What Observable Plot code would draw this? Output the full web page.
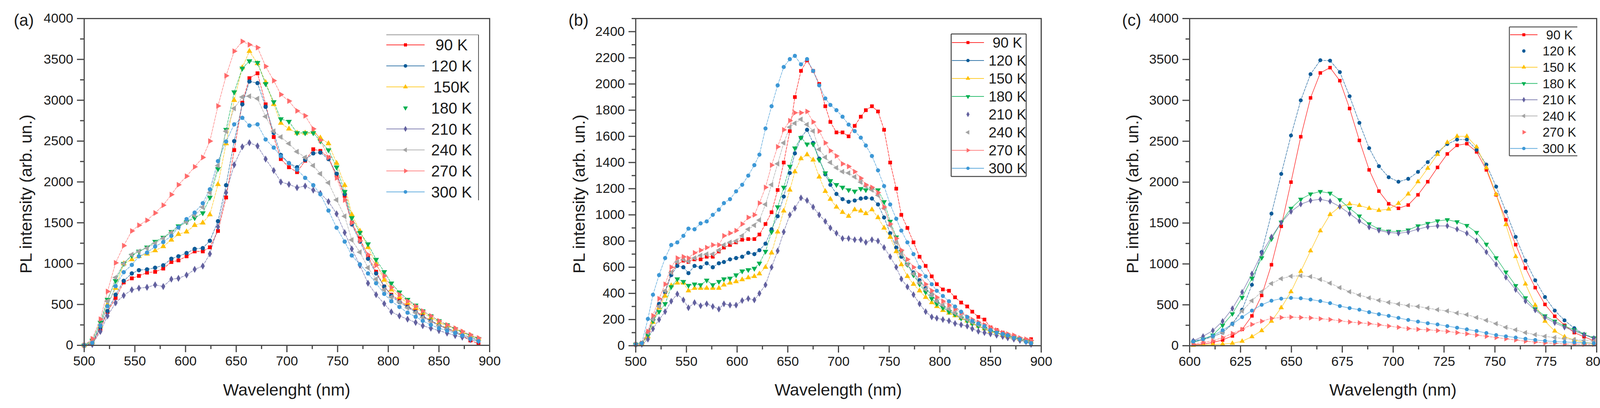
<!DOCTYPE html>
<html>
<head>
<meta charset="utf-8">
<script src="https://cdn.jsdelivr.net/npm/d3@7"></script>
<script src="https://cdn.jsdelivr.net/npm/@observablehq/plot@0.6"></script>
<style>
  body { margin: 0; background: #fff; }
  #fig { position: relative; width: 4135px; height: 1045px; overflow: hidden;
         font-family: "Liberation Sans", Arial, sans-serif; color: #1a1a1a; }
  .abs { position: absolute; white-space: nowrap; line-height: 1; }
</style>
</head>
<body>
<div id="fig"></div>
<script>
// ---------- panel (a) ----------
const xA = [500, 508, 516, 523, 531, 539, 547, 554, 562, 570, 578, 586, 593, 601, 609, 617, 624, 632, 640, 648,
  656, 663, 671, 679, 687, 694, 702, 710, 718, 726, 733, 741, 749, 757, 764, 772, 780, 788, 796, 803,
  811, 819, 827, 834, 842, 850, 858, 866, 873, 881, 889];
const a90 = [0, 20, 200, 410, 580, 770, 820, 850, 890, 900, 940, 1020, 1040, 1090, 1150, 1150, 1200, 1400, 1810, 2390,
  2970, 3270, 3330, 2950, 2550, 2280, 2180, 2120, 2260, 2400, 2380, 2300, 2080, 1830, 1500, 1310, 1090, 900, 720, 620,
  550, 480, 420, 360, 300, 250, 200, 160, 120, 60, 20];
const a120 = [0, 30, 220, 420, 620, 790, 880, 920, 930, 950, 980, 1060, 1090, 1130, 1180, 1190, 1280, 1520, 1960, 2500,
  2950, 3230, 3210, 2920, 2600, 2330, 2230, 2180, 2270, 2350, 2360, 2280, 2100, 1850, 1480, 1270, 1060, 880, 720, 610,
  530, 470, 410, 350, 300, 250, 210, 170, 130, 100, 60];
const a150 = [0, 40, 240, 500, 700, 1000, 1050, 1090, 1120, 1160, 1210, 1290, 1360, 1390, 1470, 1500, 1600, 1970, 2470, 3000,
  3400, 3600, 3450, 3220, 2950, 2720, 2650, 2600, 2600, 2610, 2540, 2470, 2230, 1960, 1600, 1400, 1200, 1000, 800, 680,
  590, 520, 460, 400, 340, 280, 240, 200, 160, 120, 80];
const a180 = [0, 60, 280, 560, 790, 1000, 1100, 1150, 1200, 1270, 1320, 1390, 1460, 1510, 1560, 1620, 1810, 2160, 2640, 3100,
  3390, 3480, 3460, 3200, 2980, 2770, 2740, 2600, 2600, 2600, 2500, 2390, 2180, 1880, 1560, 1380, 1240, 1050, 900, 760,
  650, 560, 490, 420, 360, 300, 250, 200, 160, 120, 80];
const a210 = [0, 10, 170, 360, 520, 610, 680, 700, 710, 740, 720, 810, 820, 860, 930, 970, 1120, 1450, 1870, 2210,
  2430, 2480, 2440, 2280, 2140, 2000, 1970, 1930, 1950, 1900, 1860, 1760, 1610, 1380, 1180, 980, 760, 620, 510, 410,
  360, 320, 280, 240, 210, 180, 150, 120, 100, 70, 50];
const a240 = [0, 40, 250, 540, 830, 1000, 1110, 1150, 1190, 1250, 1310, 1380, 1440, 1510, 1590, 1690, 1870, 2200, 2620, 2900,
  3040, 3050, 3020, 2800, 2620, 2550, 2470, 2370, 2300, 2200, 2100, 1990, 1780, 1580, 1290, 1140, 950, 810, 680, 590,
  530, 460, 400, 340, 290, 240, 200, 170, 130, 100, 70];
const a270 = [0, 80, 320, 660, 1010, 1220, 1400, 1470, 1530, 1620, 1715, 1845, 1965, 2070, 2185, 2300, 2500, 2930, 3300, 3600,
  3720, 3680, 3645, 3415, 3240, 3070, 2990, 2870, 2810, 2650, 2510, 2300, 2050, 1780, 1500, 1280, 1110, 980, 850, 710,
  620, 540, 480, 420, 360, 300, 250, 210, 170, 130, 90];
const a300 = [0, 30, 240, 480, 725, 895, 985, 1090, 1135, 1210, 1265, 1340, 1445, 1545, 1625, 1740, 1910, 2255, 2495, 2705,
  2785, 2690, 2705, 2520, 2420, 2315, 2230, 2150, 2050, 1960, 1850, 1650, 1440, 1270, 1100, 990, 880, 760, 630, 540,
  470, 400, 350, 300, 250, 210, 180, 150, 120, 80, 50];

// ---------- panel (b) ----------
const xB = [500, 506, 512, 517, 523, 529, 535, 541, 547, 552, 558, 564, 570, 576, 582, 587, 593, 599, 605, 611,
  617, 622, 628, 634, 640, 646, 652, 657, 663, 669, 675, 681, 687, 692, 698, 704, 710, 716, 722, 727,
  733, 739, 745, 751, 757, 762, 768, 774, 780, 786, 792, 797, 803, 809, 815, 821, 827, 832, 838, 844,
  850, 856, 862, 867, 873, 879, 885, 890];
const b90 = [10, 20, 100, 200, 300, 410, 560, 620, 650, 640, 660, 660, 680, 680, 720, 750, 770, 790, 810, 815,
  815, 850, 930, 1020, 1190, 1400, 1640, 1900, 2100, 2180, 2100, 2000, 1830, 1710, 1630, 1630, 1600, 1680, 1750, 1800,
  1830, 1790, 1650, 1400, 1200, 1000, 900, 790, 680, 610, 530, 470, 430, 420, 370, 330, 300, 260, 220, 200,
  140, 120, 100, 80, 70, 50, 45, 50];
const b120 = [10, 20, 100, 200, 320, 410, 540, 610, 600, 555, 610, 600, 630, 600, 630, 640, 660, 670, 680, 710,
  700, 730, 780, 890, 990, 1140, 1320, 1470, 1590, 1650, 1550, 1430, 1310, 1230, 1160, 1120, 1100, 1110, 1125, 1130,
  1125, 1080, 980, 860, 750, 680, 620, 560, 500, 440, 390, 340, 300, 270, 240, 210, 190, 170, 150, 130,
  110, 100, 80, 70, 60, 50, 30, 20];
const b150 = [10, 15, 70, 180, 290, 380, 460, 480, 480, 420, 440, 440, 440, 440, 440, 465, 480, 490, 505, 520,
  530, 550, 600, 710, 870, 1030, 1190, 1330, 1430, 1460, 1420, 1290, 1180, 1120, 1060, 1020, 990, 1040, 1030, 1010,
  1040, 980, 900, 830, 720, 620, 530, 470, 420, 370, 330, 300, 270, 250, 230, 210, 190, 170, 150, 130,
  110, 100, 80, 70, 60, 50, 40, 30];
const b180 = [10, 15, 80, 190, 260, 320, 450, 510, 490, 460, 470, 465, 500, 465, 490, 510, 515, 540, 570, 580,
  590, 630, 720, 870, 1060, 1210, 1370, 1510, 1590, 1540, 1540, 1420, 1320, 1260, 1230, 1210, 1190, 1180, 1200, 1190,
  1200, 1190, 1100, 950, 830, 720, 620, 540, 470, 410, 360, 320, 290, 260, 240, 210, 190, 170, 150, 130,
  110, 100, 80, 70, 60, 50, 40, 30];
const b210 = [5, 10, 50, 130, 200, 260, 340, 395, 350, 290, 330, 305, 320, 300, 280, 320, 310, 310, 345, 360,
  350, 400, 465, 600, 725, 870, 1000, 1050, 1130, 1110, 1060, 1000, 950, 900, 860, 820, 820, 810, 810, 790,
  810, 800, 750, 680, 600, 510, 450, 390, 320, 260, 220, 210, 200, 190, 170, 160, 150, 130, 110, 100,
  90, 80, 70, 60, 50, 40, 30, 10];
const b240 = [10, 20, 100, 200, 300, 420, 560, 640, 660, 645, 670, 690, 700, 700, 730, 770, 790, 800, 840, 890,
  920, 960, 1080, 1230, 1390, 1550, 1670, 1700, 1730, 1690, 1640, 1500, 1440, 1400, 1360, 1330, 1320, 1290, 1250, 1220,
  1190, 1150, 1050, 920, 790, 700, 620, 550, 480, 430, 390, 340, 310, 280, 250, 220, 200, 180, 160, 140,
  120, 100, 90, 80, 70, 50, 40, 30];
const b270 = [10, 20, 110, 230, 360, 470, 600, 670, 680, 670, 710, 730, 750, 770, 770, 840, 860, 880, 930, 980,
  1000, 1090, 1210, 1380, 1520, 1650, 1720, 1780, 1780, 1790, 1710, 1640, 1550, 1490, 1450, 1390, 1370, 1330, 1280, 1230,
  1210, 1170, 1060, 930, 820, 730, 660, 600, 540, 470, 420, 370, 340, 310, 280, 250, 220, 200, 180, 160,
  140, 120, 100, 90, 80, 60, 50, 40];
const b300 = [10, 20, 205, 390, 540, 670, 770, 790, 840, 895, 890, 935, 950, 1000, 1040, 1090, 1120, 1180, 1230, 1300,
  1380, 1460, 1660, 1830, 1990, 2130, 2190, 2215, 2150, 2190, 2100, 1990, 1890, 1840, 1800, 1750, 1690, 1640, 1590, 1530,
  1450, 1340, 1220, 1080, 970, 880, 790, 700, 600, 530, 470, 420, 380, 340, 300, 260, 220, 190, 170, 150,
  120, 100, 90, 80, 60, 50, 30, 20];

// ---------- panel (c) ----------
const xC = [601.8, 606.6, 611.4, 616.2, 621.0, 625.8, 630.6, 635.4, 640.2, 645.0, 649.8, 654.6, 659.4, 664.2,
  669.0, 673.8, 678.6, 683.4, 688.2, 693.0, 697.8, 702.6, 707.4, 712.2, 717.0, 721.8, 726.6, 731.4,
  736.2, 741.0, 745.8, 750.6, 755.4, 760.2, 765.0, 769.8, 774.6, 779.4, 784.2, 789.0, 793.8, 798.6];
const c90 = [10, 20, 40, 70, 120, 200, 365, 615, 990, 1460, 2000, 2555, 3030, 3335, 3400, 3240, 2900, 2510, 2150, 1890,
  1735, 1680, 1720, 1845, 2005, 2180, 2345, 2450, 2470, 2370, 2150, 1845, 1540, 1235, 950, 710, 505, 360, 250, 160, 110, 60];
const c120 = [60, 80, 110, 160, 270, 440, 745, 1145, 1615, 2100, 2570, 3000, 3320, 3490, 3485, 3345, 3050, 2725, 2415, 2195,
  2060, 2005, 2040, 2125, 2245, 2365, 2465, 2520, 2520, 2395, 2215, 1945, 1640, 1330, 1040, 800, 595, 430, 310, 215, 140, 95];
const c150 = [5, 10, 15, 20, 30, 55, 110, 185, 300, 465, 660, 910, 1160, 1405, 1605, 1700, 1735, 1715, 1680, 1655,
  1670, 1740, 1855, 2005, 2170, 2340, 2485, 2560, 2560, 2430, 2175, 1850, 1480, 1090, 755, 495, 300, 180, 110, 70, 40, 30];
const c180 = [40, 80, 130, 250, 390, 590, 825, 1075, 1305, 1510, 1680, 1790, 1855, 1885, 1865, 1785, 1680, 1585, 1490, 1425,
  1400, 1395, 1415, 1465, 1495, 1525, 1540, 1515, 1470, 1385, 1240, 1075, 900, 735, 585, 450, 365, 300, 240, 195, 140, 95];
const c210 = [60, 115, 185, 300, 455, 655, 880, 1130, 1330, 1505, 1640, 1730, 1775, 1790, 1765, 1700, 1615, 1525, 1450, 1410,
  1385, 1375, 1390, 1425, 1455, 1465, 1465, 1425, 1375, 1285, 1145, 995, 835, 685, 545, 435, 345, 280, 225, 180, 135, 90];
const c240 = [40, 70, 110, 160, 260, 425, 550, 660, 760, 820, 850, 855, 845, 810, 765, 710, 660, 620, 585, 555,
  530, 510, 490, 480, 460, 440, 425, 400, 380, 345, 310, 270, 225, 195, 160, 135, 115, 100, 85, 75, 65, 55];
const c270 = [20, 40, 60, 100, 150, 200, 260, 300, 335, 345, 350, 345, 340, 330, 320, 305, 290, 280, 270, 255,
  240, 225, 210, 200, 195, 185, 175, 160, 145, 130, 115, 100, 85, 70, 55, 45, 35, 30, 20, 20, 15, 15];
const c300 = [50, 80, 120, 190, 265, 350, 430, 500, 550, 575, 585, 580, 565, 545, 520, 485, 460, 440, 410, 385,
  365, 340, 315, 295, 275, 260, 240, 220, 200, 180, 155, 130, 115, 100, 85, 70, 60, 50, 45, 40, 35, 30];

// tick values
const xTicksAB = [500, 550, 600, 650, 700, 750, 800, 850, 900];
const xMinorAB = [525, 575, 625, 675, 725, 775, 825, 875];
const yTicks4000 = [0, 500, 1000, 1500, 2000, 2500, 3000, 3500, 4000];
const yMinor4000 = [250, 750, 1250, 1750, 2250, 2750, 3250, 3750];
const yTicksB = [0, 200, 400, 600, 800, 1000, 1200, 1400, 1600, 1800, 2000, 2200, 2400];
const yMinorB = [100, 300, 500, 700, 900, 1100, 1300, 1500, 1700, 1900, 2100, 2300, 2500];
const xTicksC = [600, 625, 650, 675, 700, 725, 750, 775, 800];
const xMinorC = [612.5, 637.5, 662.5, 687.5, 712.5, 737.5, 762.5, 787.5];

const labelsA = ["90 K", "120 K", "150K", "180 K", "210 K", "240 K", "270 K", "300 K"];
const labelsBC = ["90 K", "120 K", "150 K", "180 K", "210 K", "240 K", "270 K", "300 K"];

//Marker and colour per temperature
const colors = ["#ff0000", "#0d5b98", "#ffc000", "#00b050", "#63619f", "#a3a3a3", "#ff6b6b", "#3d98d6"];

const rotTri = (angle) => {
  const c = Math.cos(angle), s = Math.sin(angle), r3 = Math.sqrt(3);
  return {
    draw(ctx, size) {
      const y = -Math.sqrt(size / (r3 * 3));
      const pts = [[0, y * 2], [-r3 * y, -y], [r3 * y, -y]];
      pts.forEach(([px, py], i) => {
        const X = px * c - py * s, Y = px * s + py * c;
        if (i) ctx.lineTo(X, Y);
        else ctx.moveTo(X, Y);
      });
      ctx.closePath();
    },
  };
};
const symbols = [d3.symbolSquare, d3.symbolCircle, d3.symbolTriangle, rotTri(Math.PI),
  d3.symbolDiamond, rotTri(-Math.PI / 2), rotTri(Math.PI / 2), d3.symbolCircle];

const fig = document.getElementById("fig");
const FONT = '"Liberation Sans", Arial, sans-serif';

const makeSeries = (xs, lists, labels) =>
  lists.map((values, i) => ({
    label: labels[i],
    color: colors[i],
    symbol: symbols[i],
    rows: values.map((v, j) => ({ x: xs[j], y: v })),
  }));

const drawPanel = (cfg) => {
  const marks = [];
  cfg.series.forEach((s, i) => {
    marks.push(
      Plot.line(s.rows, {
        x: "x", y: "y", stroke: s.color, strokeWidth: 1.6, strokeOpacity: 0.75,
        strokeDasharray: cfg.dashed.includes(i) ? "6,3" : null,
      })
    );
  });
  cfg.series.forEach((s) => {
    marks.push(Plot.dot(s.rows, { x: "x", y: "y", fill: s.color, symbol: s.symbol, r: cfg.r }));
  });
  marks.push(
    Plot.axisX({ ticks: cfg.xTicks, tickFormat: "d", tickSize: 18, tickPadding: 9, strokeWidth: 3, stroke: "#444",
      fill: "#1a1a1a", fontSize: 34, label: null }),
    Plot.axisX({ ticks: cfg.xMinor, tickSize: 10, strokeWidth: 3, stroke: "#444", fill: "none", label: null }),
    Plot.axisY({ ticks: cfg.yTicks, tickFormat: "d", tickSize: 18, tickPadding: 10, strokeWidth: 3, stroke: "#444",
      fill: "#1a1a1a", fontSize: 34, label: null }),
    Plot.axisY({ ticks: cfg.yMinor, tickSize: 10, strokeWidth: 3, stroke: "#444", fill: "none", label: null }),
    Plot.frame({ stroke: "#4a4a4a", strokeWidth: 3 })
  );

  const svg = Plot.plot({
    width: cfg.width,
    height: 1045,
    marginLeft: cfg.marginLeft,
    marginRight: cfg.width - cfg.marginLeft - cfg.plotWidth,
    marginTop: 47,
    marginBottom: 1045 - cfg.bottom,
    x: { domain: cfg.xDomain },
    y: { domain: cfg.yDomain },
    style: { fontFamily: FONT, fontSize: "34px", background: "transparent", overflow: "visible", color: "#1a1a1a" },
    marks,
  });
  svg.style.position = "absolute";
  svg.style.left = cfg.left + "px";
  svg.style.top = "0px";
  fig.appendChild(svg);

  //axis titles and panel letter
  const addText = (txt, left, top, size, rotate) => {
    const el = document.createElement("div");
    el.className = "abs";
    el.textContent = txt;
    el.style.left = left + "px";
    el.style.top = top + "px";
    el.style.fontSize = size + "px";
    el.style.transform = "translate(-50%,-50%)" + (rotate ? " rotate(-90deg)" : "");
    fig.appendChild(el);
  };
  addText(cfg.xLabel, cfg.left + cfg.marginLeft + cfg.plotWidth / 2, 998, 43);
  addText("PL intensity (arb. un.)", cfg.yLabelX, 497, 43, true);
  addText(cfg.letter, cfg.letterX, 52, 42);

  //legend box
  const L = cfg.legend;
  const lg = d3.create("svg")
    .attr("width", L.w + 4).attr("height", L.h + 4)
    .style("position", "absolute").style("left", L.x - 2 + "px").style("top", L.y - 2 + "px")
    .style("overflow", "visible");
  const g = lg.append("g").attr("transform", "translate(2,2)");
  L.borders.forEach(([x1, y1, x2, y2, c, w]) =>
    g.append("line").attr("x1", x1 * L.w).attr("y1", y1 * L.h).attr("x2", x2 * L.w).attr("y2", y2 * L.h)
      .attr("stroke", c).attr("stroke-width", w));
  cfg.series.forEach((s, i) => {
    const cy = L.first + L.step * i;
    if (!L.noLine.includes(i)) {
      g.append("line").attr("x1", L.lineFrom).attr("x2", L.lineTo).attr("y1", cy).attr("y2", cy)
        .attr("stroke", s.color).attr("stroke-width", 2).attr("stroke-opacity", 0.8);
    }
    g.append("path")
      .attr("d", d3.symbol().type(s.symbol).size(Math.PI * L.r * L.r)())
      .attr("transform", `translate(${(L.lineFrom + L.lineTo) / 2},${cy})`)
      .attr("fill", s.color);
    g.append("text").attr("x", L.textX).attr("y", cy).attr("dy", "0.36em")
      .attr("text-anchor", "middle").attr("font-family", FONT).attr("font-size", L.font)
      .attr("fill", "#1a1a1a").text(s.label);
  });
  fig.appendChild(lg.node());
};

drawPanel({
  left: 0, width: 1375, marginLeft: 215, plotWidth: 1038, bottom: 884,
  xDomain: [500, 900], yDomain: [0, 4000],
  xTicks: xTicksAB, xMinor: xMinorAB, yTicks: yTicks4000, yMinor: yMinor4000,
  series: makeSeries(xA, [a90, a120, a150, a180, a210, a240, a270, a300], labelsA),
  dashed: [0, 1, 2, 3, 4, 5, 6, 7], r: 5.5,
  xLabel: "Wavelenght (nm)", yLabelX: 66, letter: "(a)", letterX: 61,
  legend: {
    x: 989, y: 89, w: 236, h: 424, first: 26, step: 53.8, lineFrom: 0, lineTo: 98, r: 4.6,
    textX: 167, font: 40, noLine: [3],
    borders: [[0, 0, 1, 0, "#b5b5b5", 3], [1, 0, 1, 1, "#555", 2]],
  },
});

drawPanel({
  left: 1380, width: 1375, marginLeft: 247, plotWidth: 1038, bottom: 885,
  xDomain: [500, 900], yDomain: [0, 2500],
  xTicks: xTicksAB, xMinor: xMinorAB, yTicks: yTicksB, yMinor: yMinorB,
  series: makeSeries(xB, [b90, b120, b150, b180, b210, b240, b270, b300], labelsBC),
  dashed: [0, 1, 2, 3, 4, 5, 6, 7], r: 5.3,
  xLabel: "Wavelength (nm)", yLabelX: 1482, letter: "(b)", letterX: 1481,
  legend: {
    x: 2435, y: 87, w: 192, h: 365, first: 22, step: 46, lineFrom: 2, lineTo: 84, r: 4.3,
    textX: 144, font: 37, noLine: [4, 5],
    borders: [[0, 0, 1, 0, "#444", 2.5], [1, 0, 1, 1, "#444", 2.5], [0, 1, 1, 1, "#444", 2.5], [0, 0, 0, 1, "#444", 2.5]],
  },
});

drawPanel({
  left: 2760, width: 1375, marginLeft: 285, plotWidth: 1042, bottom: 885,
  xDomain: [600, 800], yDomain: [0, 4000],
  xTicks: xTicksC, xMinor: xMinorC, yTicks: yTicks4000, yMinor: yMinor4000,
  series: makeSeries(xC, [c90, c120, c150, c180, c210, c240, c270, c300], labelsBC),
  dashed: [1, 5, 6], r: 5,
  xLabel: "Wavelength (nm)", yLabelX: 2899, letter: "(c)", letterX: 2897,
  legend: {
    x: 3864, y: 69, w: 174, h: 330, first: 20, step: 41.6, lineFrom: 2, lineTo: 72, r: 4.3,
    textX: 128, font: 33, noLine: [1, 6],
    borders: [[0, 0, 1, 0, "#555", 2.5], [0, 0, 0, 1, "#555", 2.5], [0, 1, 1, 1, "#555", 2.5]],
  },
});
</script>
</body>
</html>
